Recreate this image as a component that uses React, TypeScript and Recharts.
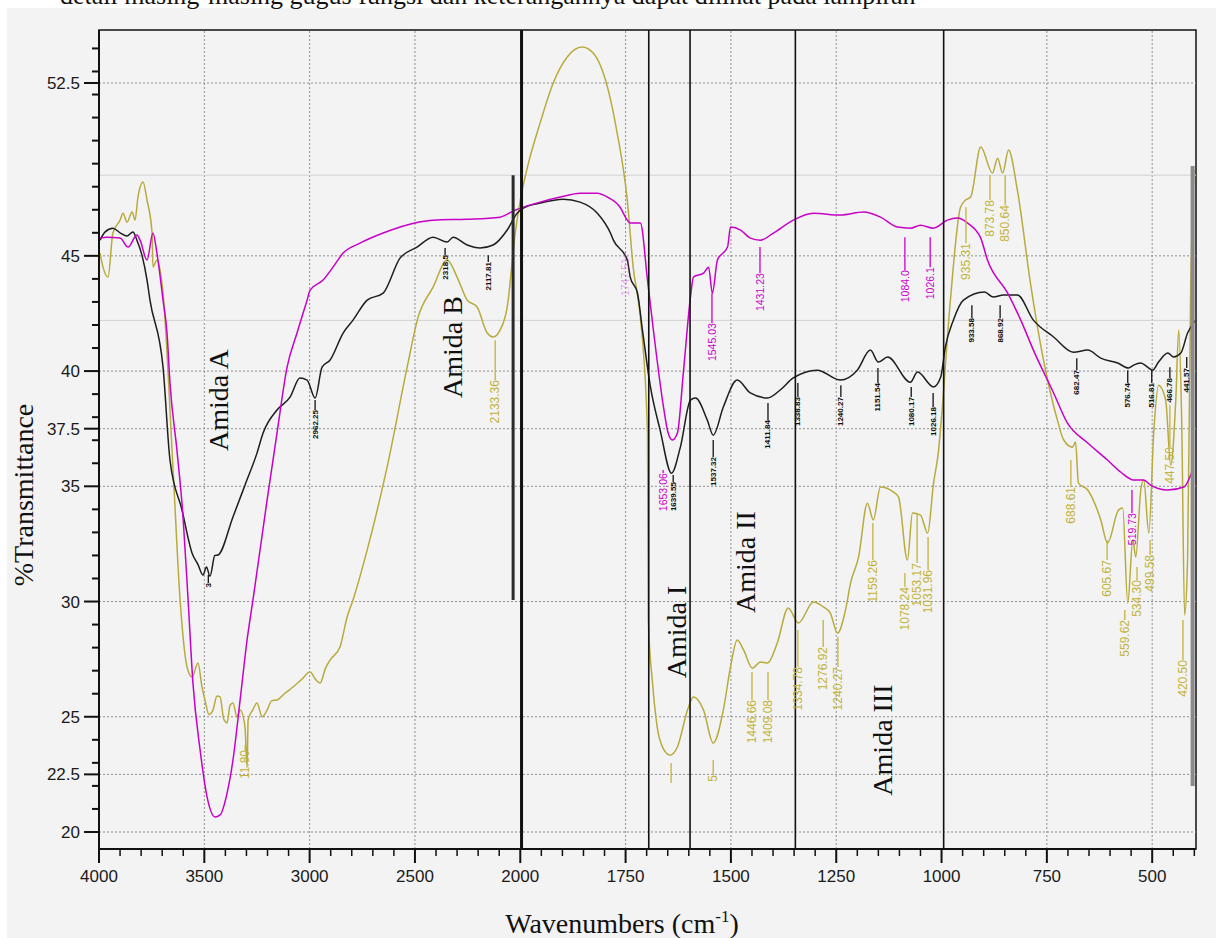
import React from 'react'
import { LineChart, Line, XAxis, YAxis, ReferenceLine, ReferenceDot, ReferenceArea } from 'recharts'

const W = 1216
const H = 938

// the wavenumber axis is squeezed 2:1 above 2000 cm-1, so plot against t
const toT = (w: number) => (w > 2000 ? 2000 + (w - 2000) / 2 : w)
const fromT = (t: number) => (t > 2000 ? 2000 + (t - 2000) * 2 : t)

const X_MIN = 396
const X_MAX = 3000
const Y_MIN = 19.262
const Y_MAX = 54.8

const yMajorTicks = [20, 22.5, 25, 30, 35, 37.5, 40, 45, 52.5]
const gridWavenumbers = [3500, 3000, 2500, 1750, 1500, 1250, 750, 500]
const dividerWavenumbers = [1695, 1597, 1347, 995]
const faintLevels = [48.5, 42.2]

// [wavenumber cm-1, %T]
const blackSpectrum = [
  [3995, 45.68], [3972, 46.03], [3934, 46.2], [3900, 46.0], [3867, 45.86], [3839, 46.03], [3820, 45.68],
  [3796, 45.03], [3772, 43.95], [3758, 43.08], [3696, 40.17], [3663, 36.14], [3606, 33.97], [3558, 32.1],
  [3530, 31.6], [3506, 31.15], [3490, 31.5], [3473, 31.1], [3450, 32.0], [3435, 32.02], [3364, 33.67],
  [3307, 35.05], [3250, 36.44], [3221, 37.31], [3155, 38.31], [3093, 38.87], [3046, 39.7], [3012, 39.61],
  [2974, 38.83], [2941, 40.17], [2903, 40.48], [2841, 41.65], [2794, 42.21], [2727, 43.08], [2651, 43.38],
  [2571, 44.9], [2490, 45.38], [2414, 45.81], [2347, 45.6], [2319, 45.81], [2252, 45.47], [2191, 45.34],
  [2129, 45.47], [2062, 46.12], [2015, 46.85], [1993, 47.07], [1953, 47.29], [1898, 47.46], [1858, 47.33],
  [1817, 46.85], [1786, 45.99], [1779, 45.68], [1746, 44.82], [1739, 44.08], [1722, 43.4], [1710, 41.78],
  [1691, 39.31], [1668, 37.44], [1641, 35.57], [1620, 36.7], [1596, 38.74], [1584, 38.83], [1556, 37.87],
  [1542, 37.22], [1518, 38.44], [1485, 39.61], [1454, 39.05], [1413, 38.83], [1383, 39.18], [1352, 39.7],
  [1295, 40.04], [1240, 39.61], [1200, 40.04], [1169, 40.91], [1150, 40.39], [1128, 40.61], [1074, 39.52],
  [1057, 39.96], [1019, 39.31], [1002, 39.74], [991, 41.04], [972, 42.21], [948, 43.08], [898, 43.43],
  [877, 43.21], [853, 43.3], [820, 43.3], [782, 42.21], [734, 41.48], [687, 40.82], [653, 40.91],
  [622, 40.56], [582, 40.35], [556, 40.13], [544, 40.26], [527, 40.35], [511, 40.17], [499, 40.04],
  [485, 40.39], [463, 40.78], [449, 40.61], [432, 40.78], [416, 41.65], [397, 42.21],
]

const magentaSpectrum = [
  [3995, 45.77], [3962, 45.81], [3900, 45.77], [3862, 45.38], [3820, 45.9], [3805, 45.68], [3772, 44.82],
  [3744, 45.99], [3725, 45.12], [3696, 43.08], [3677, 41.65], [3663, 39.48], [3630, 36.57], [3601, 33.67],
  [3577, 30.07], [3554, 26.46], [3520, 23.56], [3487, 21.52], [3449, 20.65], [3425, 20.74], [3392, 21.69],
  [3364, 23.12], [3330, 25.73], [3297, 28.33], [3269, 30.07], [3202, 34.4], [3155, 37.31], [3107, 40.17],
  [3060, 41.65], [3012, 43.08], [2998, 43.51], [2936, 43.95], [2889, 44.51], [2841, 45.12], [2761, 45.55],
  [2651, 45.99], [2485, 46.46], [2414, 46.55], [2252, 46.59], [2096, 46.68], [2025, 46.98], [1993, 47.11],
  [1953, 47.33], [1905, 47.55], [1858, 47.72], [1817, 47.72], [1793, 47.55], [1763, 47.11], [1746, 46.55],
  [1739, 46.42], [1715, 46.42], [1698, 43.95], [1684, 41.78], [1660, 38.44], [1649, 37.31], [1639, 37.01],
  [1627, 37.31], [1613, 39.91], [1596, 43.21], [1589, 44.08], [1565, 44.25], [1553, 44.51], [1544, 43.38],
  [1532, 44.82], [1508, 45.38], [1501, 46.25], [1477, 46.12], [1454, 45.77], [1430, 45.68], [1399, 45.99],
  [1352, 46.55], [1304, 46.85], [1240, 46.77], [1185, 46.9], [1145, 46.68], [1105, 46.25], [1074, 46.2],
  [1050, 46.33], [1019, 46.2], [986, 46.55], [962, 46.64], [938, 46.42], [907, 45.77], [891, 44.82],
  [843, 43.38], [812, 42.21], [782, 40.91], [734, 39.05], [701, 37.74], [653, 36.88], [606, 36.14],
  [575, 35.62], [544, 35.27], [520, 35.27], [504, 35.05], [463, 34.84], [425, 34.97], [404, 35.71],
]

const oliveSpectrum = [
  [3995, 45.12], [3981, 44.51], [3957, 44.08], [3934, 45.99], [3900, 46.55], [3886, 46.85], [3867, 46.46],
  [3843, 46.9], [3829, 46.55], [3815, 47.55], [3791, 48.2], [3772, 47.42], [3748, 45.99], [3744, 44.51],
  [3725, 44.82], [3696, 43.38], [3649, 35.84], [3615, 30.07], [3582, 27.16], [3558, 26.72], [3530, 27.33],
  [3511, 26.29], [3497, 25.73], [3478, 25.1], [3459, 25.29], [3440, 25.9], [3425, 25.86], [3408, 24.9],
  [3392, 24.73], [3378, 25.5], [3364, 25.6], [3345, 25.0], [3330, 25.29], [3307, 24.56], [3297, 22.8],
  [3292, 24.86], [3270, 25.3], [3250, 25.6], [3225, 25.0], [3202, 25.29], [3180, 25.7], [3155, 25.73],
  [3120, 26.0], [3079, 26.29], [3040, 26.6], [2998, 26.94], [2970, 26.6], [2950, 26.46], [2925, 27.1],
  [2903, 27.46], [2856, 28.03], [2822, 29.33], [2794, 30.07], [2727, 32.23], [2632, 35.84], [2537, 40.17],
  [2485, 42.34], [2414, 43.64], [2347, 44.82], [2300, 44.08], [2252, 43.08], [2205, 42.78], [2157, 41.65],
  [2129, 41.48], [2096, 41.78], [2062, 42.78], [2024, 45.99], [2000, 47.42], [1983, 48.85], [1953, 50.76],
  [1922, 52.49], [1889, 53.62], [1853, 54.06], [1827, 53.8], [1793, 52.32], [1770, 50.33], [1746, 47.42],
  [1732, 44.51], [1715, 42.34], [1698, 37.31], [1696, 29.2], [1686, 26.46], [1675, 24.56], [1660, 23.6],
  [1644, 23.34], [1627, 23.69], [1603, 25.29], [1589, 25.86], [1565, 25.29], [1542, 23.86], [1518, 25.29],
  [1501, 27.16], [1485, 28.33], [1470, 27.9], [1449, 27.11], [1430, 27.38], [1413, 27.33], [1390, 28.2],
  [1364, 29.72], [1359, 29.63], [1340, 29.07], [1304, 29.98], [1280, 29.76], [1264, 29.5], [1247, 28.63],
  [1228, 29.63], [1216, 30.8], [1197, 31.93], [1176, 34.27], [1162, 33.54], [1145, 34.97], [1114, 34.75],
  [1102, 34.53], [1081, 31.8], [1069, 33.84], [1050, 33.75], [1033, 32.97], [1019, 35.14], [1007, 36.57],
  [1002, 37.57], [979, 43.08], [955, 47.11], [943, 47.42], [931, 47.55], [907, 49.72], [879, 48.59],
  [867, 49.24], [855, 48.59], [841, 49.59], [820, 47.85], [789, 43.82], [758, 40.48], [725, 37.87],
  [710, 37.01], [689, 36.7], [682, 36.92], [675, 35.14], [653, 34.84], [622, 33.54], [606, 32.54],
  [580, 33.97], [570, 34.06], [558, 29.93], [546, 32.67], [539, 31.93], [527, 34.84], [520, 35.27],
  [508, 32.97], [496, 37.44], [485, 39.39], [468, 38.74], [456, 35.92], [444, 38.74], [437, 41.78],
  [430, 37.87], [423, 29.41], [416, 31.8], [409, 43.08], [401, 48.72],
]

// peak labels: [wavenumber, %T at tip of leader, %T where text starts, text]
type Peak = [number, number, number, string]

const blackPeaks: Peak[] = [
  [3481, 31.15, 30.8, '3'],
  [2974, 38.74, 38.31, '2962.25'],
  [2357, 45.34, 45.03, '2318.5'],
  [2152, 45.03, 44.73, '2117.81'],
  [1637, 35.49, 35.18, '1639.55'],
  [1542, 37.01, 36.27, '1537.32'],
  [1412, 38.61, 37.87, '1411.84'],
  [1341, 39.48, 38.87, '1338.83'],
  [1239, 39.39, 38.87, '1240.27'],
  [1151, 40.13, 39.48, '1151.54'],
  [1072, 39.31, 38.87, '1080.17'],
  [1020, 39.05, 38.44, '1026.18'],
  [928, 42.86, 42.3, '933.58'],
  [861, 42.86, 42.3, '868.92'],
  [679, 40.56, 40.04, '682.47'],
  [558, 40.04, 39.48, '576.74'],
  [501, 40.04, 39.48, '516.81'],
  [458, 40.17, 39.7, '466.78'],
  [418, 40.61, 40.13, '441.57'],
]

const magentaPeaks: Peak[] = [
  [1751, 45.12, 44.9, '1747.51'],
  [1661, 35.71, 35.57, '1653.06'],
  [1545, 43.38, 42.08, '1545.03'],
  [1431, 45.38, 44.25, '1431.23'],
  [1087, 45.81, 44.38, '1084.0'],
  [1027, 45.81, 44.51, '1026.1'],
  [548, 34.84, 33.84, '519.73'],
]

const olivePeaks: Peak[] = [
  [3306, 23.77, 23.56, '11.80'],
  [2119, 41.34, 39.61, '2133.36'],
  [1642, 22.99, 22.13, ''],
  [1542, 23.12, 22.47, '5'],
  [1450, 26.94, 25.73, '1446.66'],
  [1412, 26.94, 25.73, '1409.08'],
  [1341, 28.76, 27.16, '1334.78'],
  [1281, 29.2, 28.03, '1276.92'],
  [1246, 28.46, 27.16, '1240.27'],
  [1163, 33.41, 31.8, '1159.26'],
  [1087, 31.24, 30.63, '1078.24'],
  [1058, 33.84, 31.67, '1053.17'],
  [1032, 32.8, 31.37, '1031.96'],
  [942, 47.11, 45.55, '935.31'],
  [885, 48.5, 47.42, '873.78'],
  [849, 48.5, 47.2, '850.64'],
  [693, 36.14, 34.97, '688.61'],
  [607, 32.67, 31.8, '605.67'],
  [565, 29.63, 29.2, '559.62'],
  [536, 31.5, 30.93, '534.30'],
  [505, 32.67, 32.02, '499.58'],
  [458, 38.52, 36.7, '447.50'],
  [427, 29.2, 27.46, '420.50'],
]

// [wavenumber, %T, text]
const regionLabels: [number, number, string][] = [
  [3434, 38.74, 'Amida A'],
  [2323, 41.04, 'Amida B'],
  [1628, 28.68, 'Amida I'],
  [1466, 31.71, 'Amida II'],
  [1141, 23.99, 'Amida III'],
]

const xTicks: number[] = []
for (let t = 400; t <= 3000; t += 50) xTicks.push(t)
const yTicks: number[] = [...yMajorTicks]
for (let v = 21; v <= 54; v++) if (!yTicks.includes(v)) yTicks.push(v)

const toRows = (pts: number[][]) => pts.map(([w, v]) => ({ t: toT(w), v }))

const SANS = '"Liberation Sans", Arial, sans-serif'
const SERIF = '"Liberation Serif", "Times New Roman", serif'

const XTick = (props: any) => {
  const { x, y, payload } = props
  const v = Math.round(payload.value)
  const major = v % 250 === 0
  return (
    <g>
      <line x1={x} x2={x} y1={y} y2={y + (major ? 14 : 7)} stroke="#111" strokeWidth={major ? 2 : 1.5} />
      {major && (
        <text x={x} y={y + 33} textAnchor="middle" fontSize={17} fill="#1a1a1a" fontFamily={SANS}>
          {fromT(v)}
        </text>
      )}
    </g>
  )
}

const YTick = (props: any) => {
  const { x, y, payload } = props
  const major = yMajorTicks.includes(payload.value)
  return (
    <g>
      <line x1={x - (major ? 15 : 7)} x2={x} y1={y} y2={y} stroke="#111" strokeWidth={2} />
      {major && (
        <text x={x - 19} y={y + 6} textAnchor="end" fontSize={17} fill="#1a1a1a" fontFamily={SANS}>
          {payload.value}
        </text>
      )}
    </g>
  )
}

const peakMarks = (peaks: Peak[], color: string, fontSize: number, weight: number, key: string, opacity = 1) =>
  peaks.flatMap(([w, tip, textTop, text], i) => [
    <ReferenceLine
      key={`${key}-l${i}`}
      segment={[{ x: toT(w), y: tip }, { x: toT(w), y: textTop }]}
      stroke={color}
      strokeOpacity={opacity}
      strokeWidth={1.3}
    />,
    <ReferenceDot
      key={`${key}-t${i}`}
      x={toT(w)}
      y={textTop}
      r={1}
      shape={(p: any) => (
        <text
          x={p.cx}
          y={p.cy}
          transform={`rotate(-90 ${p.cx} ${p.cy})`}
          textAnchor="end"
          dominantBaseline="central"
          fontSize={fontSize}
          fontWeight={weight}
          fontFamily={SANS}
          fill={color}
          fillOpacity={opacity}
        >
          {text}
        </text>
      )}
    />,
  ])

export default function App() {
  return (
    <div style={{ position: 'absolute', left: 0, top: 0, width: W, height: H, background: '#fff', overflow: 'hidden' }}>
      <div style={{ position: 'absolute', left: 7, top: 8, width: W - 7, height: H - 8, background: '#f3f3f3' }} />
      <div style={{ position: 'absolute', left: 0, top: 0 }}>
        <LineChart width={W} height={H} margin={{ top: 30, right: 20, bottom: 49, left: 39 }}>
          <XAxis
            type="number"
            dataKey="t"
            domain={[X_MIN, X_MAX]}
            reversed
            allowDataOverflow
            ticks={xTicks}
            interval={0}
            tick={(p: any) => <XTick {...p} />}
            tickLine={false}
            tickSize={0}
            tickMargin={0}
            height={40}
            axisLine={{ stroke: '#111', strokeWidth: 2 }}
          />
          <YAxis
            type="number"
            dataKey="v"
            domain={[Y_MIN, Y_MAX]}
            allowDataOverflow
            ticks={yTicks}
            interval={0}
            tick={(p: any) => <YTick {...p} />}
            tickLine={false}
            tickSize={0}
            tickMargin={0}
            width={60}
            axisLine={{ stroke: '#111', strokeWidth: 2 }}
          />

          {yMajorTicks.map((v) => (
            <ReferenceLine key={`gy${v}`} y={v} stroke="#8f8f8f" strokeDasharray="2 2" />
          ))}
          {gridWavenumbers.map((w) => (
            <ReferenceLine key={`gx${w}`} x={toT(w)} stroke="#8f8f8f" strokeDasharray="2 2" />
          ))}
          {faintLevels.map((v) => (
            <ReferenceLine key={`f${v}`} y={v} stroke="#d2d2d2" />
          ))}

          <Line data={toRows(oliveSpectrum)} dataKey="v" type="monotone" stroke="#b8ab3e" strokeWidth={1.5} dot={false} isAnimationActive={false} />
          <Line data={toRows(blackSpectrum)} dataKey="v" type="monotone" stroke="#1e1e1e" strokeWidth={1.5} dot={false} isAnimationActive={false} />
          <Line data={toRows(magentaSpectrum)} dataKey="v" type="monotone" stroke="#c800c8" strokeWidth={1.5} dot={false} isAnimationActive={false} />

          <ReferenceLine x={toT(1997)} stroke="#111" strokeWidth={3} />
          {dividerWavenumbers.map((w) => (
            <ReferenceLine key={`d${w}`} x={toT(w)} stroke="#111" strokeWidth={1.6} />
          ))}
          <ReferenceLine segment={[{ x: toT(2034), y: 48.5 }, { x: toT(2034), y: 30.07 }]} stroke="#2a2a2a" strokeWidth={3} />
          <ReferenceLine segment={[{ x: toT(404), y: 48.9 }, { x: toT(404), y: 22.0 }]} stroke="#8a8a8a" strokeWidth={4} />
          <ReferenceArea x1={X_MIN} x2={X_MAX} y1={Y_MIN} y2={Y_MAX} fill="none" stroke="#111" strokeWidth={1.5} />

          {peakMarks(olivePeaks, '#c2b338', 12, 400, 'o')}
          {peakMarks(blackPeaks, '#111', 8, 700, 'b')}
          {peakMarks(magentaPeaks.slice(0, 1), '#cc33cc', 10.5, 400, 'm0', 0.45)}
          {peakMarks(magentaPeaks.slice(1), '#cc00cc', 10.5, 400, 'm')}

          {regionLabels.map(([w, v, text]) => (
            <ReferenceDot
              key={text}
              x={toT(w)}
              y={v}
              r={1}
              shape={(p: any) => (
                <text
                  x={p.cx}
                  y={p.cy}
                  transform={`rotate(-90 ${p.cx} ${p.cy})`}
                  textAnchor="middle"
                  dominantBaseline="central"
                  fontSize={28}
                  fontFamily={SERIF}
                  fill="#111"
                >
                  {text}
                </text>
              )}
            />
          ))}
        </LineChart>
      </div>
      <svg width={W} height={H} style={{ position: 'absolute', left: 0, top: 0, pointerEvents: 'none' }}>
        <text x={60} y={4} fontSize={26} fontFamily={SERIF} fill="#111">
          detail masing-masing gugus fungsi dan keterangannya dapat dilihat pada lampiran
        </text>
        <text
          x={23}
          y={495}
          transform="rotate(-90 23 495)"
          textAnchor="middle"
          dominantBaseline="central"
          fontSize={28}
          fontFamily={SERIF}
          fill="#111"
        >
          %Transmittance
        </text>
        <text x={622} y={933} textAnchor="middle" fontSize={28} fontFamily={SERIF} fill="#111">
          Wavenumbers (cm
          <tspan dy={-11} fontSize={17}>-1</tspan>
          <tspan dy={11}>)</tspan>
        </text>
      </svg>
    </div>
  )
}
